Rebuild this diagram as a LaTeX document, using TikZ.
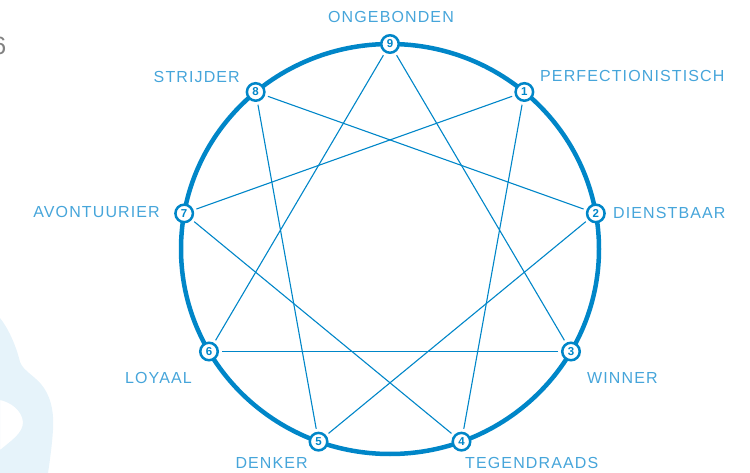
\documentclass[tikz,border=0pt]{standalone}
\usepackage{fontspec}
\setmainfont{Liberation Sans}
\newfontfamily\labelfont{Liberation Sans}[LetterSpace=7]
\usetikzlibrary{calc}
\definecolor{RingBlue}{RGB}{0,134,200}
\definecolor{LabelBlue}{RGB}{70,165,218}
\definecolor{BlobBlue}{RGB}{230,243,250}
\definecolor{PageGray}{RGB}{130,130,130}

\begin{document}
\begin{tikzpicture}[x=1pt, y=-1pt,
    num/.style={circle, draw=RingBlue, line width=2.5pt, fill=white, minimum size=17.5pt,
        inner sep=0pt, font=\fontsize{11.5}{12}\selectfont\bfseries, text=RingBlue},
    lab/.style={inner sep=0pt, font=\labelfont\fontsize{16}{16}\selectfont, text=LabelBlue},
    link/.style={RingBlue, line width=1.1pt, shorten <=3pt, shorten >=3pt},
]
\useasboundingbox (0,0) rectangle (750,473);
% background blob and page number
\fill[BlobBlue, even odd rule] (0,318) .. controls (8,328) and (16,345) .. (20,362)
    .. controls (24,372) and (36,376) .. (44,388) .. controls (52,400) and (54,415) .. (53,430)
    .. controls (52,445) and (50,460) .. (48,473) -- (0,473) -- cycle
    (0,400) .. controls (10,402) and (22,410) .. (23,422)
    .. controls (23,433) and (12,440) .. (0,450) -- cycle;
\node[anchor=east, inner sep=0pt, font=\fontsize{25}{25}\selectfont, text=PageGray] (page) at (6.5,46) {6};
% ring and points
\draw[RingBlue, line width=4.5pt] (390,249) ellipse [x radius=209, y radius=205];
\foreach \k in {1,...,9}
    \node[num] (n\k) at ({390+209*cos(90-40*\k)}, {249-205*sin(90-40*\k)}) {\k};
\foreach \a/\b in {9/3, 3/6, 6/9, 1/4, 4/7, 7/1, 2/5, 5/8, 8/2}
    \draw[link] (n\a) -- (n\b);
% labels
\node[lab] (l9) at (391,17) {ONGEBONDEN};
\node[lab, anchor=west] (l1) at (540,76) {PERFECTIONISTISCH};
\node[lab, anchor=west] (l2) at (613,213) {DIENSTBAAR};
\node[lab, anchor=west] (l3) at (587,378) {WINNER};
\node[lab, anchor=west] (l4) at (465,463) {TEGENDRAADS};
\node[lab, anchor=east] (l5) at (308,463) {DENKER};
\node[lab, anchor=east] (l6) at (192,378) {LOYAAL};
\node[lab, anchor=east] (l7) at (160,212) {AVONTUURIER};
\node[lab, anchor=east] (l8) at (240,77) {STRIJDER};
\end{tikzpicture}
\end{document}
